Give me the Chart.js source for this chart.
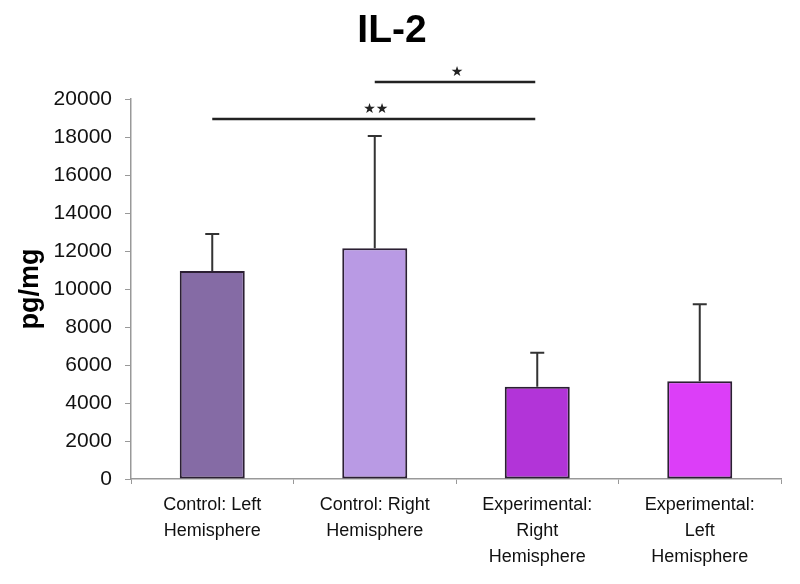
<!DOCTYPE html>
<html>
<head>
<meta charset="utf-8">
<script src="https://cdn.jsdelivr.net/npm/chart.js@4"></script>
<style>
  html, body { margin: 0; padding: 0; background: #fff; }
  #wrap { width: 800px; height: 584px; }
</style>
</head>
<body>
<div id="wrap"><canvas id="il2Chart"></canvas></div>
<script>
// Data
const categories = [
    ['Control: Left', 'Hemisphere'],
    ['Control: Right', 'Hemisphere'],
    ['Experimental:', 'Right', 'Hemisphere'],
    ['Experimental:', 'Left', 'Hemisphere']
];
const means = [10950, 12150, 4850, 5150];
const errUpper = [1950, 5900, 1800, 4050];
const barColors = ['#856ba5', '#b99ae4', '#b234d8', '#dc3ef8'];
const yTicks = [0, 2000, 4000, 6000, 8000, 10000, 12000, 14000, 16000, 18000, 20000];

// significance brackets: from category, to category, height (pg/mg), number of stars
const sigFrom = [1, 0];
const sigTo = [2, 2];
const sigLevel = [20900, 18950];
const sigStars = [1, 2];

const ink = '#222';
const font = '"Liberation Sans", Arial, sans-serif';

// Error bars (upper only) with caps
const errorBars = {
    id: 'errorBars',
    afterDatasetsDraw(chart) {
        const { ctx, scales: { x, y } } = chart;
        ctx.save();
        ctx.strokeStyle = '#333';
        ctx.lineWidth = 2;
        means.forEach((m, i) => {
            const cx = x.getPixelForValue(i);
            const y0 = y.getPixelForValue(m);
            const y1 = y.getPixelForValue(m + errUpper[i]);
            ctx.beginPath();
            ctx.moveTo(cx, y0);
            ctx.lineTo(cx, y1);
            ctx.moveTo(cx - 7, y1);
            ctx.lineTo(cx + 7, y1);
            ctx.stroke();
        });
        ctx.restore();
    }
};

// Significance lines + stars, and the title
const annotations = {
    id: 'annotations',
    afterDraw(chart) {
        const { ctx, scales: { x, y } } = chart;
        ctx.save();
        ctx.strokeStyle = ink;
        ctx.fillStyle = ink;
        ctx.lineWidth = 2.5;
        sigLevel.forEach((lvl, i) => {
            const x0 = x.getPixelForValue(sigFrom[i]);
            const x1 = x.getPixelForValue(sigTo[i]) - 2;
            const yy = y.getPixelForValue(lvl);
            ctx.beginPath();
            ctx.moveTo(x0, yy);
            ctx.lineTo(x1, yy);
            ctx.stroke();
            ctx.font = '14px "DejaVu Sans", sans-serif';
            ctx.textAlign = 'center';
            ctx.textBaseline = 'middle';
            ctx.fillText('★'.repeat(sigStars[i]), (x0 + x1) / 2 + 2, yy - 10);
        });
        ctx.font = 'bold 39px ' + font;
        ctx.fillStyle = '#000';
        ctx.textAlign = 'center';
        ctx.textBaseline = 'middle';
        ctx.fillText('IL-2', 392, 31);
        ctx.restore();
    }
};

new Chart(document.getElementById('il2Chart'), {
    type: 'bar',
    data: {
        labels: categories,
        datasets: [{
            data: means,
            backgroundColor: barColors,
            borderColor: '#2b1f33',
            borderWidth: 2,
            borderSkipped: false,
            categoryPercentage: 1,
            barPercentage: 0.4
        }]
    },
    options: {
        responsive: true,
        maintainAspectRatio: false,
        animation: false,
        layout: { padding: { top: 99, right: 19, left: 0, bottom: 0 } },
        plugins: {
            legend: { display: false },
            tooltip: { enabled: false },
            title: { display: false }
        },
        scales: {
            x: {
                afterFit: (s) => { s.height = 105; },
                grid: {
                    offset: true,
                    drawOnChartArea: false,
                    color: '#999',
                    tickLength: 5
                },
                border: { color: '#999', width: 1.5 },
                ticks: {
                    color: '#111',
                    padding: 8,
                    maxRotation: 0,
                    autoSkip: false,
                    font: { family: font, size: 18, lineHeight: 1.45 }
                }
            },
            y: {
                min: 0,
                max: 20000,
                afterFit: (s) => { s.width = 131; },
                afterBuildTicks: (s) => { s.ticks = yTicks.map((v) => ({ value: v })); },
                grid: {
                    drawOnChartArea: false,
                    color: '#999',
                    tickLength: 6
                },
                border: { color: '#999', width: 1.5 },
                ticks: {
                    color: '#111',
                    padding: 13,
                    callback: (v) => String(v),
                    font: { family: font, size: 21 }
                },
                title: {
                    display: true,
                    text: 'pg/mg',
                    color: '#000',
                    padding: { top: 14, bottom: 0 },
                    font: { family: font, size: 27, weight: 'bold' }
                }
            }
        }
    },
    plugins: [errorBars, annotations]
});
</script>
</body>
</html>
